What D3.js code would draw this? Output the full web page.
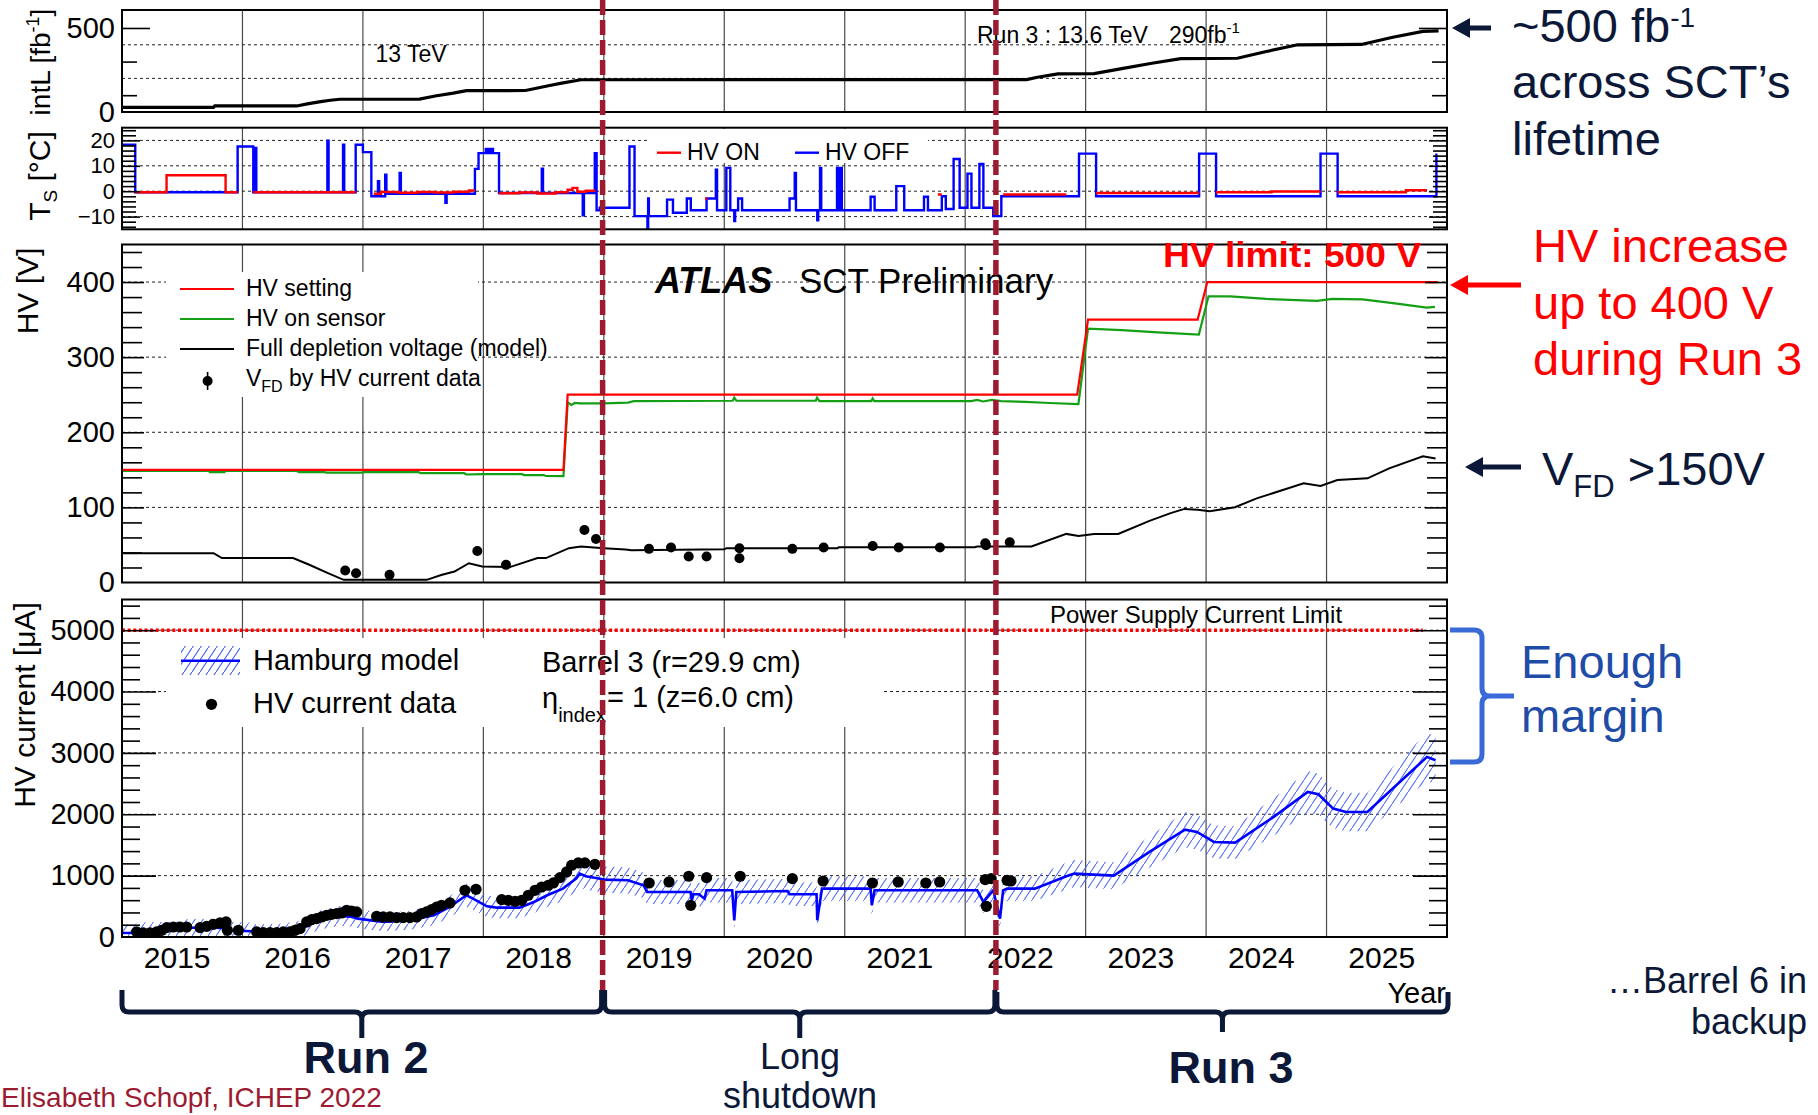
<!DOCTYPE html>
<html>
<head>
<meta charset="utf-8">
<script src="https://cdn.jsdelivr.net/npm/d3@7"></script>
<style>
  html, body { margin: 0; padding: 0; background: #fff; }
  svg { display: block; }
  text { font-family: "Liberation Sans", Arial, Helvetica, sans-serif; }
</style>
</head>
<body>
<svg id="chart" width="1818" height="1115"></svg>
<script>
// ---------------- data ----------------
const yearTicks = [2015, 2016, 2017, 2018, 2019, 2020, 2021, 2022, 2023, 2024, 2025];
const yearTickLabels = ["2015", "2016", "2017", "2018", "2019", "2020", "2021", "2022", "2023", "2024", "2025"];
const yearGrid = [2016, 2017, 2018, 2019, 2020, 2021, 2022, 2023, 2024, 2025];
const runBoundaries = [2018.99, 2022.255];

const lumiTickLabels = [0, 500];
const tempTickLabels = [-10, 0, 10, 20];
const hvTickLabels = [0, 100, 200, 300, 400];
const currentTickLabels = [0, 1000, 2000, 3000, 4000, 5000];
const currentLimit = 5000;   // power supply current limit [uA]
const run3Lumi = 290;        // fb^-1 expected in Run 3

// cumulative integrated luminosity [fb^-1]
const lumiCumulative = [
  [2015.00, 28], [2015.76, 28], [2015.77, 36], [2016.45, 36], [2016.55, 50], [2016.65, 62],
  [2016.73, 70], [2016.81, 76], [2017.47, 77], [2017.60, 95], [2017.75, 112], [2017.86, 127],
  [2018.35, 128], [2018.45, 143], [2018.55, 158], [2018.65, 172], [2018.81, 192], [2022.51, 193],
  [2022.60, 207], [2022.77, 227], [2023.07, 228], [2023.30, 258], [2023.55, 290], [2023.79, 318],
  [2024.26, 320], [2024.50, 360], [2024.76, 400], [2025.29, 402], [2025.55, 445], [2025.80, 480],
  [2025.93, 483]
];

// sensor temperature while HV is off [deg C]
const tempHvOff = [
  [2015.00, 18.3], [2015.11, -0.4], [2015.96, 17.6], [2016.09, -0.4], [2016.105, 17.0], [2016.115, -0.4],
  [2016.705, 19.9], [2016.715, -0.4], [2016.835, 18.3], [2016.845, -0.4], [2016.94, 18.3], [2017.00, 15.4],
  [2017.07, -2.0], [2017.125, 3.9], [2017.135, -2.0], [2017.185, 6.5], [2017.195, -1.0], [2017.305, 7.2],
  [2017.315, -1.0], [2017.685, -4.6], [2017.695, -1.0], [2017.93, 8.8], [2017.96, 15.0], [2018.02, 16.6],
  [2018.04, 15.0], [2018.06, 16.6], [2018.08, 15.0], [2018.13, -0.7], [2018.485, 8.9], [2018.495, -0.7],
  [2018.825, -9.5], [2018.835, -0.7], [2018.925, 15.0], [2018.94, -7.5], [2018.966, -6.5], [2019.213, 17.6],
  [2019.255, -9.8], [2019.362, -14.4], [2019.368, -2.9], [2019.374, -9.8], [2019.525, -3.3], [2019.574, -8.5],
  [2019.689, -2.9], [2019.722, -7.5], [2019.853, -2.9], [2019.93, 8.5], [2019.94, -7.5], [2020.017, 9.2],
  [2020.05, -7.5], [2020.083, -11.8], [2020.09, -7.5], [2020.115, -2.9], [2020.148, -7.5], [2020.542, -2.9],
  [2020.585, 7.2], [2020.595, -7.5], [2020.772, -11.5], [2020.78, -7.5], [2020.795, 9.2], [2020.805, -7.5],
  [2020.936, 9.2], [2020.946, -7.5], [2020.966, 9.2], [2020.976, -7.5], [2021.215, -2.2], [2021.248, -7.5],
  [2021.428, 2.0], [2021.494, -7.5], [2021.658, -2.2], [2021.691, -7.5], [2021.806, -2.0], [2021.839, -7.0],
  [2021.904, 12.7], [2021.954, -6.5], [2022.019, 6.9], [2022.052, -6.5], [2022.118, 10.7], [2022.151, -6.5],
  [2022.233, -9.8], [2022.30, -2.0], [2022.945, 14.8], [2023.087, -2.0], [2023.942, 14.8], [2024.083, -2.0],
  [2024.95, 14.8], [2025.092, -2.0], [2025.912, 14.4], [2025.92, 14.4]
];

// sensor temperature while HV is on [deg C], one list per period
const tempHvOnPeriods = [
  [[2015.11, -0.4], [2015.37, 6.3], [2015.86, -0.4], [2015.96, -0.4]],
  [[2016.09, -0.4], [2016.94, -0.4]],
  [[2017.09, -1.0], [2017.15, -0.3], [2017.30, -0.6], [2017.45, -0.3], [2017.60, -0.5], [2017.75, -0.2], [2017.88, 0.3], [2017.93, 0.3]],
  [[2018.13, -0.8], [2018.30, -0.5], [2018.45, -0.9], [2018.60, -0.4], [2018.70, 0.6], [2018.74, 1.3], [2018.78, -0.2], [2018.85, 0.2], [2018.93, 0.2]],
  [[2019.84, -2.9], [2019.86, -2.9]],
  [[2021.773, -1.3], [2021.806, -1.3]],
  [[2022.315, -1.3], [2022.84, -1.3]],
  [[2023.087, -0.7], [2023.942, -0.7]],
  [[2024.083, -0.4], [2024.543, -0.1], [2024.95, -0.1]],
  [[2025.092, -0.4], [2025.658, 0.4], [2025.834, 0.4]]
];

// high voltage [V]
const hvSetting = [
  [2015.00, 150], [2018.665, 150], [2018.70, 250], [2022.93, 250], [2023.02, 350],
  [2023.93, 350], [2024.01, 400], [2025.92, 400]
];
const hvOnSensor = [
  [2015.00, 148.5], [2015.72, 148.5], [2015.73, 147], [2015.85, 147], [2015.86, 148.5], [2016.45, 148.5],
  [2016.47, 147], [2016.68, 147], [2016.70, 146.2], [2017.00, 146.2], [2017.01, 147], [2017.46, 147],
  [2017.48, 145.5], [2017.84, 145.5], [2017.86, 143.8], [2018.00, 144.2], [2018.32, 144.2], [2018.34, 143],
  [2018.50, 143], [2018.52, 141.8], [2018.665, 141.5], [2018.70, 240], [2018.73, 236.5], [2018.76, 239],
  [2018.80, 238.5], [2019.00, 238.5], [2019.20, 239.5], [2019.25, 241.5], [2020.07, 242], [2020.083, 246],
  [2020.10, 242], [2020.76, 242], [2020.77, 246], [2020.79, 241.5], [2021.22, 241.5], [2021.232, 245],
  [2021.245, 241.5], [2022.05, 241.5], [2022.10, 243], [2022.15, 241], [2022.22, 243], [2022.30, 241.5],
  [2022.50, 240.5], [2022.70, 239], [2022.94, 237.5], [2023.02, 338], [2023.30, 336], [2023.60, 333],
  [2023.94, 330], [2024.02, 381], [2024.20, 381], [2024.50, 377.5], [2024.92, 375], [2025.05, 377.5],
  [2025.30, 377], [2025.60, 371], [2025.83, 366], [2025.90, 367]
];
// full depletion voltage, model [V]
const vfdModel = [
  [2015.00, 39], [2015.76, 39], [2015.83, 32.5], [2016.42, 32.5], [2016.55, 24], [2016.71, 12.5],
  [2016.84, 3.5], [2017.53, 3.5], [2017.65, 10], [2017.76, 14.6], [2017.88, 25.7], [2017.99, 21.3],
  [2018.22, 20.5], [2018.45, 32.5], [2018.52, 32.5], [2018.71, 45.7], [2018.81, 47.9], [2019.00, 45.7],
  [2019.18, 43.8], [2019.23, 43], [2020.00, 44.3], [2020.02, 45.7], [2020.94, 45.7], [2020.95, 47],
  [2022.08, 47], [2022.10, 47.9], [2022.55, 47.9], [2022.84, 64.7], [2022.94, 62], [2023.07, 64.7],
  [2023.27, 64.7], [2023.53, 82], [2023.70, 92], [2023.82, 98], [2023.93, 97], [2024.03, 95],
  [2024.24, 100.2], [2024.42, 112], [2024.81, 132], [2024.95, 128.5], [2025.09, 136.4], [2025.34, 138.7],
  [2025.52, 152], [2025.80, 168], [2025.905, 165]
];
// full depletion voltage extracted from HV current data [V]
const vfdFromCurrent = [
  [2016.853, 16], [2016.943, 12.4], [2017.221, 10.2], [2017.95, 42], [2018.188, 23.5], [2018.839, 70],
  [2018.935, 58], [2019.375, 44.8], [2019.558, 46.5], [2019.705, 34.6], [2019.853, 34.6], [2020.126, 45.7],
  [2020.126, 32.4], [2020.565, 44.8], [2020.825, 46.5], [2021.232, 48.7], [2021.448, 46.5], [2021.79, 46.5],
  [2022.167, 52.3], [2022.172, 49.5], [2022.37, 53.7]
];

// leakage current: Hamburg model prediction [uA]
const hamburgModel = [
  [2015.00, 65], [2015.10, 70], [2015.20, 100], [2015.45, 110], [2015.55, 150], [2015.75, 155],
  [2015.87, 140], [2015.90, 105], [2016.08, 95], [2016.10, 70], [2016.30, 80], [2016.45, 110],
  [2016.50, 150], [2016.64, 272], [2016.75, 320], [2016.81, 343], [2016.90, 330], [2016.96, 299],
  [2017.02, 283], [2017.17, 245], [2017.39, 272], [2017.59, 354], [2017.72, 490], [2017.86, 680],
  [2017.94, 598], [2018.03, 500], [2018.11, 479], [2018.30, 479], [2018.42, 571], [2018.53, 680],
  [2018.66, 789], [2018.77, 952], [2018.80, 1033], [2018.85, 989], [2018.97, 950], [2019.00, 935],
  [2019.20, 924], [2019.33, 842], [2019.36, 734], [2019.72, 734], [2019.73, 598], [2019.745, 696],
  [2019.79, 696], [2019.836, 625], [2019.853, 761], [2020.066, 761], [2020.083, 272], [2020.10, 734],
  [2020.526, 750], [2020.542, 696], [2020.766, 696], [2020.772, 272], [2020.811, 788], [2021.215, 788],
  [2021.225, 516], [2021.248, 761], [2022.019, 761], [2022.10, 761], [2022.151, 571], [2022.233, 761],
  [2022.289, 299], [2022.315, 761], [2022.348, 788], [2022.578, 788], [2022.84, 989], [2022.906, 1033],
  [2023.234, 1000], [2023.53, 1386], [2023.825, 1750], [2023.924, 1712], [2024.065, 1549], [2024.242, 1538],
  [2024.561, 1957], [2024.844, 2364], [2024.932, 2326], [2025.055, 2092], [2025.162, 2038], [2025.339, 2038],
  [2025.444, 2228], [2025.834, 2935], [2025.905, 2880]
];
const hamburgRelUnc = 0.09;   // relative model uncertainty
const hamburgAbsUnc = 130;    // absolute model uncertainty [uA]

// leakage current: HV current data [uA]
const hvCurrentData = [
  [2015.122, 82], [2015.177, 66], [2015.233, 66], [2015.288, 82], [2015.33, 109], [2015.371, 153],
  [2015.426, 163], [2015.482, 163], [2015.537, 163], [2015.648, 153], [2015.703, 174], [2015.758, 207],
  [2015.813, 229], [2015.864, 245], [2015.875, 109], [2015.966, 109], [2016.118, 82], [2016.173, 71],
  [2016.229, 71], [2016.284, 71], [2016.339, 82], [2016.395, 82], [2016.436, 109], [2016.478, 136],
  [2016.533, 245], [2016.575, 283], [2016.616, 299], [2016.658, 327], [2016.699, 354], [2016.74, 370],
  [2016.782, 381], [2016.823, 392], [2016.865, 435], [2016.906, 424], [2016.948, 408], [2017.114, 338],
  [2017.169, 327], [2017.225, 327], [2017.28, 316], [2017.335, 316], [2017.39, 316], [2017.446, 327],
  [2017.488, 381], [2017.529, 408], [2017.57, 446], [2017.612, 489], [2017.653, 517], [2017.723, 555],
  [2017.847, 761], [2017.939, 777], [2018.152, 609], [2018.207, 598], [2018.263, 582], [2018.318, 598],
  [2018.373, 680], [2018.429, 761], [2018.484, 815], [2018.539, 843], [2018.581, 881], [2018.636, 968],
  [2018.691, 1060], [2018.733, 1169], [2018.788, 1207], [2018.843, 1207], [2018.926, 1185],
  [2019.377, 880], [2019.541, 897], [2019.705, 990], [2019.722, 516], [2019.853, 967], [2020.132, 990],
  [2020.565, 951], [2020.82, 913], [2021.23, 880], [2021.444, 897], [2021.673, 880], [2021.788, 897],
  [2022.166, 935], [2022.176, 500], [2022.216, 951], [2022.348, 924], [2022.38, 913]
];

// ---------------- layout ----------------
const X0 = 122, X1 = 1447;
const x = d3.scaleLinear().domain([2015, 2026]).range([X0, X1]);

const panels = {
  lumi: { top: 10,    bottom: 112,   domain: [0, 607],   minor: d3.range(100, 601, 200), major: [500], grid: [200, 400], labels: lumiTickLabels, labelSize: 29, majLen: 28, minLen: 15 },
  temp: { top: 127.7, bottom: 229.3, domain: [-15, 25],  minor: d3.range(-14, 25, 2),   major: [-10, 0, 10, 20], grid: [-10, 0, 10, 20], labels: tempTickLabels, labelSize: 22, majLen: 18, minLen: 14 },
  hv:   { top: 244.5, bottom: 582.5, domain: [0, 450],   minor: d3.range(20, 441, 20),  major: [100, 200, 300, 400], grid: [100, 200, 300, 400], labels: hvTickLabels, labelSize: 29, majLen: 22, minLen: 20 },
  cur:  { top: 599.5, bottom: 937,   domain: [0, 5500],  minor: d3.range(200, 5401, 200), major: [1000, 2000, 3000, 4000, 5000], grid: [1000, 2000, 3000, 4000, 5000], labels: currentTickLabels, labelSize: 29, majLen: 34, minLen: 18 }
};
Object.values(panels).forEach(p => {
  p.y = d3.scaleLinear().domain(p.domain).range([p.bottom, p.top]);
});

const NAVY = "#0c1838";
const CRIMSON = "#9c1b31";

const svg = d3.select("#chart");
svg.append("rect").attr("width", 1818).attr("height", 1115).attr("fill", "#fff");
const defs = svg.append("defs");

defs.append("pattern")
  .attr("id", "hatch").attr("patternUnits", "userSpaceOnUse")
  .attr("width", 8).attr("height", 12)
  .append("path").attr("d", "M0,12 L8,0")
  .attr("stroke", "#4661f2").attr("stroke-width", 1.1);

Object.entries(panels).forEach(([k, p]) => {
  defs.append("clipPath").attr("id", "clip-" + k)
    .append("rect").attr("x", X0).attr("y", p.top).attr("width", X1 - X0).attr("height", p.bottom - p.top);
});

const gGrid = svg.append("g");
const gBox = svg.append("g");
const gData = svg.append("g");
const gFrame = svg.append("g");
const gText = svg.append("g");
const gOver = svg.append("g");

// ---------- grids ----------
Object.entries(panels).forEach(([k, p]) => {
  gGrid.append("g").selectAll("line").data(yearGrid).join("line")
    .attr("x1", d => x(d)).attr("x2", d => x(d))
    .attr("y1", p.top).attr("y2", p.bottom)
    .attr("stroke", "#4a4a4a").attr("stroke-width", 1.2);
  gGrid.append("g").selectAll("line").data(p.grid).join("line")
    .attr("x1", X0).attr("x2", X1)
    .attr("y1", d => p.y(d)).attr("y2", d => p.y(d))
    .attr("stroke", "#222").attr("stroke-width", 1).attr("stroke-dasharray", "3,3");
});

// ---------- legend backgrounds ----------
[[649, 129, 279, 34], [166, 272, 312, 125], [166, 638, 718, 89]].forEach(r => {
  gBox.append("rect").attr("x", r[0]).attr("y", r[1]).attr("width", r[2]).attr("height", r[3]).attr("fill", "#fff");
});

// ---------- panel 1: luminosity ----------
{
  const p = panels.lumi;
  gData.append("path").datum(lumiCumulative)
    .attr("clip-path", "url(#clip-lumi)")
    .attr("d", d3.line().x(d => x(d[0])).y(d => p.y(d[1])))
    .attr("fill", "none").attr("stroke", "#000").attr("stroke-width", 3.2);
}

// ---------- panel 2: temperature ----------
{
  const p = panels.temp;
  const stepLine = d3.line().x(d => x(d[0])).y(d => p.y(d[1])).curve(d3.curveStepAfter);
  gData.append("path").datum(tempHvOff)
    .attr("clip-path", "url(#clip-temp)")
    .attr("d", stepLine).attr("fill", "none").attr("stroke", "#0000ff").attr("stroke-width", 2.4);
  gData.append("g").attr("clip-path", "url(#clip-temp)")
    .selectAll("path").data(tempHvOnPeriods).join("path")
    .attr("d", stepLine).attr("fill", "none").attr("stroke", "#ff0000").attr("stroke-width", 2.4);
}

// ---------- panel 3: high voltage ----------
{
  const p = panels.hv;
  const line = d3.line().x(d => x(d[0])).y(d => p.y(d[1]));
  const g = gData.append("g").attr("clip-path", "url(#clip-hv)");
  g.append("path").datum(vfdModel).attr("d", line).attr("fill", "none").attr("stroke", "#000").attr("stroke-width", 2);
  g.append("path").datum(hvOnSensor).attr("d", line).attr("fill", "none").attr("stroke", "#14a014").attr("stroke-width", 2.2);
  g.append("path").datum(hvSetting).attr("d", line).attr("fill", "none").attr("stroke", "#ff0000").attr("stroke-width", 2.2);
  g.selectAll("line.err").data(vfdFromCurrent).join("line")
    .attr("x1", d => x(d[0])).attr("x2", d => x(d[0]))
    .attr("y1", d => p.y(d[1] - 3)).attr("y2", d => p.y(d[1] + 3))
    .attr("stroke", "#000").attr("stroke-width", 1.5);
  g.selectAll("circle").data(vfdFromCurrent).join("circle")
    .attr("cx", d => x(d[0])).attr("cy", d => p.y(d[1])).attr("r", 5).attr("fill", "#000");
}

// ---------- panel 4: HV current ----------
{
  const p = panels.cur;
  const g = gData.append("g").attr("clip-path", "url(#clip-cur)");
  g.append("path").datum(hamburgModel)
    .attr("d", d3.area().x(d => x(d[0]))
      .y0(d => p.y(d[1] * (1 - hamburgRelUnc) - hamburgAbsUnc))
      .y1(d => p.y(d[1] * (1 + hamburgRelUnc) + hamburgAbsUnc)))
    .attr("fill", "url(#hatch)").attr("opacity", 0.9);
  g.append("path").datum(hamburgModel)
    .attr("d", d3.line().x(d => x(d[0])).y(d => p.y(d[1])))
    .attr("fill", "none").attr("stroke", "#0000ff").attr("stroke-width", 2.6);
  g.selectAll("circle").data(hvCurrentData).join("circle")
    .attr("cx", d => x(d[0])).attr("cy", d => p.y(d[1])).attr("r", 5.6).attr("fill", "#000");
  // power supply limit
  g.append("line")
    .attr("x1", X0).attr("x2", x(2025.8))
    .attr("y1", p.y(currentLimit)).attr("y2", p.y(currentLimit))
    .attr("stroke", "#ff0000").attr("stroke-width", 3.6).attr("stroke-dasharray", "3,2.6");
}

// ---------- frames, ticks, tick labels ----------
Object.entries(panels).forEach(([k, p]) => {
  const g = gFrame.append("g");
  const minorOnly = p.minor.filter(v => !p.major.includes(v));
  const axL = g.append("g").attr("transform", `translate(${X0},0)`)
    .call(d3.axisLeft(p.y).tickValues(minorOnly).tickSize(-p.minLen).tickFormat(""));
  const axR = g.append("g").attr("transform", `translate(${X1},0)`)
    .call(d3.axisRight(p.y).tickValues(minorOnly).tickSize(-p.minLen).tickFormat(""));
  const axLM = g.append("g").attr("transform", `translate(${X0},0)`)
    .call(d3.axisLeft(p.y).tickValues(p.major).tickSize(-p.majLen).tickFormat(""));
  const axRM = g.append("g").attr("transform", `translate(${X1},0)`)
    .call(d3.axisRight(p.y).tickValues(p.major).tickSize(-p.majLen).tickFormat(""));
  [axL, axR, axLM, axRM].forEach(a => {
    a.select(".domain").remove();
    a.selectAll("line").attr("stroke", "#000").attr("stroke-width", 1.6);
  });
  const lab = g.append("g").attr("transform", `translate(${X0},0)`)
    .call(d3.axisLeft(p.y).tickValues(p.labels).tickSize(0).tickPadding(7)
      .tickFormat(d => d < 0 ? "\u2212" + Math.abs(d) : String(d)));
  lab.select(".domain").remove();
  lab.selectAll("text").attr("font-size", p.labelSize).attr("fill", "#000")
    .attr("font-family", '"Liberation Sans", Arial, sans-serif');
  g.append("rect").attr("x", X0).attr("y", p.top).attr("width", X1 - X0).attr("height", p.bottom - p.top)
    .attr("fill", "none").attr("stroke", "#000").attr("stroke-width", 2);
});

// year labels under the bottom panel
{
  const ax = gFrame.append("g").attr("transform", `translate(0,${panels.cur.bottom})`)
    .call(d3.axisBottom(x).tickValues(yearTicks.map(v => v + 0.454)).tickSize(0).tickPadding(9.5)
      .tickFormat((d, i) => yearTickLabels[i]));
  ax.select(".domain").remove();
  ax.selectAll("text").attr("font-size", 30).attr("fill", "#000")
    .attr("font-family", '"Liberation Sans", Arial, sans-serif');
}

// ---------- axis titles ----------
function vtitle(cx, cy, size, parts) {
  const t = gText.append("text").attr("transform", `translate(${cx},${cy}) rotate(-90)`)
    .attr("text-anchor", "middle").attr("font-size", size).attr("fill", "#000");
  parts.forEach(pt => {
    const s = t.append("tspan").text(pt.t);
    if (pt.size) s.attr("font-size", pt.size);
    if (pt.dy) s.attr("dy", pt.dy);
  });
}
vtitle(50, 62, 28, [{ t: "intL [fb" }, { t: "-1", size: 18, dy: -11 }, { t: "]", dy: 11 }]);
vtitle(50, 176, 30, [{ t: "T" }, { t: "S", size: 19, dy: 7 }, { t: " [°C]", dy: -7 }]);
vtitle(38, 291, 30, [{ t: "HV [V]" }]);
vtitle(35, 705, 30, [{ t: "HV current [μA]" }]);

gText.append("text").attr("x", 1446).attr("y", 1003).attr("text-anchor", "end")
  .attr("font-size", 29).text("Year");

// ---------- in-plot texts ----------
gText.append("text").attr("x", 411).attr("y", 62).attr("text-anchor", "middle").attr("font-size", 23).text("13 TeV");
gText.append("text").attr("x", 977).attr("y", 43).attr("font-size", 23).text("Run 3 : 13.6 TeV");
{
  const t = gText.append("text").attr("x", 1169).attr("y", 43).attr("font-size", 23);
  t.append("tspan").text(run3Lumi + "fb");
  t.append("tspan").attr("font-size", 15).attr("dy", -10).text("-1");
}

// temperature legend
{
  const yL = 152.7;
  gText.append("line").attr("x1", 657).attr("x2", 681).attr("y1", yL).attr("y2", yL).attr("stroke", "#ff0000").attr("stroke-width", 2.4);
  gText.append("text").attr("x", 687).attr("y", 160).attr("font-size", 23).text("HV ON");
  gText.append("line").attr("x1", 795).attr("x2", 819).attr("y1", yL).attr("y2", yL).attr("stroke", "#0000ff").attr("stroke-width", 2.4);
  gText.append("text").attr("x", 825).attr("y", 160).attr("font-size", 23).text("HV OFF");
}

// HV legend
{
  const rows = [
    { y: 296, color: "#ff0000", label: "HV setting" },
    { y: 326, color: "#14a014", label: "HV on sensor" },
    { y: 356, color: "#000", label: "Full depletion voltage (model)" }
  ];
  rows.forEach(r => {
    gText.append("line").attr("x1", 180).attr("x2", 234).attr("y1", r.y - 7).attr("y2", r.y - 7)
      .attr("stroke", r.color).attr("stroke-width", 2.2);
    gText.append("text").attr("x", 246).attr("y", r.y).attr("font-size", 23).text(r.label);
  });
  gText.append("line").attr("x1", 207.6).attr("x2", 207.6).attr("y1", 372).attr("y2", 390).attr("stroke", "#000").attr("stroke-width", 1.6);
  gText.append("circle").attr("cx", 207.6).attr("cy", 381).attr("r", 5).attr("fill", "#000");
  const t = gText.append("text").attr("x", 246).attr("y", 386).attr("font-size", 23);
  t.append("tspan").text("V");
  t.append("tspan").attr("font-size", 16).attr("dy", 6).text("FD");
  t.append("tspan").attr("dy", -6).text(" by HV current data");
}

// ATLAS label
gText.append("text").attr("x", 655).attr("y", 293).attr("font-size", 36).attr("font-weight", "bold")
  .attr("font-style", "italic").text("ATLAS");
gText.append("text").attr("x", 799).attr("y", 293).attr("font-size", 35).text("SCT Preliminary");
gText.append("text").attr("x", 1163).attr("y", 267).attr("font-size", 35).attr("font-weight", "bold")
  .attr("fill", "#ff0000").attr("textLength", 258).attr("lengthAdjust", "spacingAndGlyphs").text("HV limit: 500 V");

// current legend
{
  gText.append("rect").attr("x", 181).attr("y", 646).attr("width", 59).attr("height", 29).attr("fill", "url(#hatch)");
  gText.append("line").attr("x1", 181).attr("x2", 240).attr("y1", 660.7).attr("y2", 660.7).attr("stroke", "#0000ff").attr("stroke-width", 2.6);
  gText.append("text").attr("x", 253).attr("y", 670).attr("font-size", 29).text("Hamburg model");
  gText.append("circle").attr("cx", 211.5).attr("cy", 704.3).attr("r", 5.6).attr("fill", "#000");
  gText.append("text").attr("x", 253).attr("y", 713).attr("font-size", 29).text("HV current data");
  gText.append("text").attr("x", 542).attr("y", 672).attr("font-size", 29).text("Barrel 3 (r=29.9 cm)");
  const t = gText.append("text").attr("x", 542).attr("y", 708).attr("font-size", 29);
  t.append("tspan").text("η");
  t.append("tspan").attr("font-size", 20).attr("dy", 14).text("index");
  gText.append("text").attr("x", 607).attr("y", 707).attr("font-size", 29).text("= 1 (z=6.0 cm)");
  gText.append("text").attr("x", 1050).attr("y", 623).attr("font-size", 24).text("Power Supply Current Limit");
}

// ---------- run boundaries ----------
gOver.selectAll("line.run").data(runBoundaries).join("line")
  .attr("x1", d => x(d)).attr("x2", d => x(d)).attr("y1", 0).attr("y2", 990)
  .attr("stroke", CRIMSON).attr("stroke-width", 5.5).attr("stroke-dasharray", "15,5");

// ---------- braces ----------
function hBrace(x1, x2, yTop, yMid, yTip) {
  const xm = (x1 + x2) / 2, r = 7;
  return `M${x1},${yTop} L${x1},${yMid - r} Q${x1},${yMid} ${x1 + r},${yMid} L${xm - r},${yMid} ` +
    `Q${xm},${yMid} ${xm},${yMid + r} L${xm},${yTip} M${xm},${yMid + r} Q${xm},${yMid} ${xm + r},${yMid} ` +
    `L${x2 - r},${yMid} Q${x2},${yMid} ${x2},${yMid - r} L${x2},${yTop}`;
}
const braceSpans = [
  [x(2015), x(runBoundaries[0]) - 1, 990, 1012, 1038],
  [x(runBoundaries[0]) + 2, x(runBoundaries[1]) - 1, 990, 1012, 1038],
  [x(runBoundaries[1]) + 1, X1 + 1, 992, 1012, 1032]
];
gOver.selectAll("path.brace").data(braceSpans).join("path")
  .attr("d", d => hBrace(...d)).attr("fill", "none").attr("stroke", NAVY).attr("stroke-width", 5)
  .attr("stroke-linejoin", "round");

gOver.append("text").attr("x", 366).attr("y", 1073).attr("text-anchor", "middle").attr("font-size", 45)
  .attr("font-weight", "bold").attr("fill", NAVY).text("Run 2");
gOver.append("text").attr("x", 800).attr("y", 1069).attr("text-anchor", "middle").attr("font-size", 36)
  .attr("fill", NAVY).text("Long");
gOver.append("text").attr("x", 800).attr("y", 1108).attr("text-anchor", "middle").attr("font-size", 36)
  .attr("fill", NAVY).text("shutdown");
gOver.append("text").attr("x", 1231).attr("y", 1083).attr("text-anchor", "middle").attr("font-size", 45)
  .attr("font-weight", "bold").attr("fill", NAVY).text("Run 3");
gOver.append("text").attr("x", 1).attr("y", 1107).attr("font-size", 28)
  .attr("fill", CRIMSON).text("Elisabeth Schopf, ICHEP 2022");

// ---------- side annotations ----------
function arrow(xTip, xTail, y, color) {
  gOver.append("line").attr("x1", xTip + 12).attr("x2", xTail).attr("y1", y).attr("y2", y)
    .attr("stroke", color).attr("stroke-width", 5);
  gOver.append("path").attr("d", `M${xTip},${y} L${xTip + 18},${y - 10} L${xTip + 18},${y + 10} Z`).attr("fill", color);
}
arrow(1452, 1491, 28, NAVY);
arrow(1450, 1521, 285, "#ff0000");
arrow(1465, 1521, 467, NAVY);

{
  const t = gOver.append("text").attr("x", 1512).attr("y", 42).attr("font-size", 47).attr("fill", NAVY);
  t.append("tspan").text("~500 fb");
  t.append("tspan").attr("font-size", 28).attr("dy", -15).text("-1");
  gOver.append("text").attr("x", 1512).attr("y", 98).attr("font-size", 47).attr("fill", NAVY).text("across SCT’s");
  gOver.append("text").attr("x", 1512).attr("y", 155).attr("font-size", 47).attr("fill", NAVY).text("lifetime");
}
["HV increase", "up to 400 V", "during Run 3"].forEach((s, i) => {
  gOver.append("text").attr("x", 1533).attr("y", 262 + i * 56.5).attr("font-size", 47).attr("fill", "#ff0000").text(s);
});
{
  const t = gOver.append("text").attr("x", 1542).attr("y", 485).attr("font-size", 47).attr("fill", NAVY);
  t.append("tspan").text("V");
  t.append("tspan").attr("font-size", 31).attr("dy", 12).text("FD");
  t.append("tspan").attr("dy", -12).text(" >150V");
}
gOver.append("path")
  .attr("d", "M1450,630 L1474,630 Q1482,630 1482,638 L1482,688 Q1482,696 1490,696 L1514,696 M1490,696 Q1482,696 1482,704 L1482,754 Q1482,762 1474,762 L1450,762")
  .attr("fill", "none").attr("stroke", "#3a6ad8").attr("stroke-width", 5);
gOver.append("text").attr("x", 1521).attr("y", 678).attr("font-size", 47).attr("fill", "#1f4ca6").text("Enough");
gOver.append("text").attr("x", 1521).attr("y", 732).attr("font-size", 47).attr("fill", "#1f4ca6").text("margin");
gOver.append("text").attr("x", 1807).attr("y", 993).attr("text-anchor", "end").attr("font-size", 36).attr("fill", NAVY).text("…Barrel 6 in");
gOver.append("text").attr("x", 1807).attr("y", 1034).attr("text-anchor", "end").attr("font-size", 36).attr("fill", NAVY).text("backup");
</script>
</body>
</html>
